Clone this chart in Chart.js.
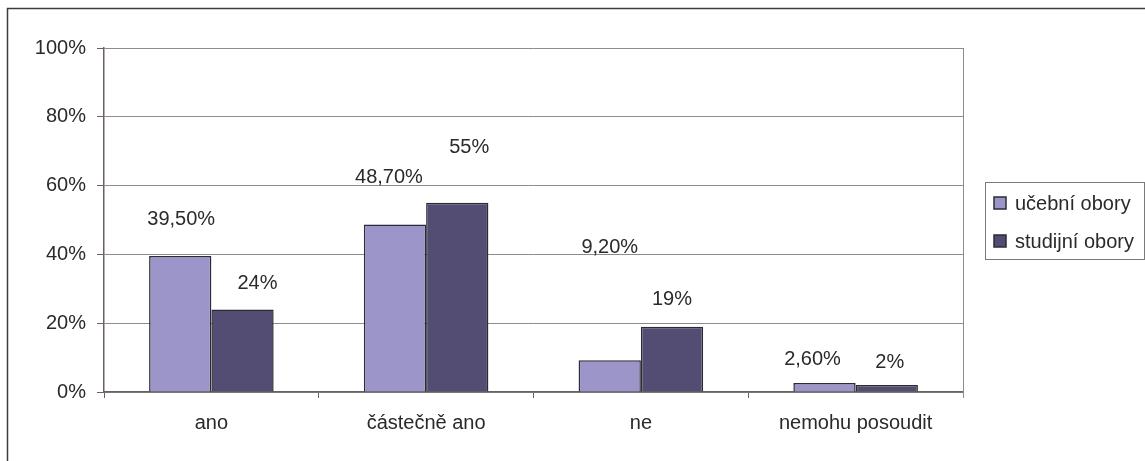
<!DOCTYPE html>
<html>
<head>
<meta charset="utf-8">
<script src="https://cdn.jsdelivr.net/npm/chart.js@4"></script>
<style>
    html, body { margin: 0; padding: 0; background: #ffffff; }
    #wrap { position: relative; width: 1145px; height: 461px; }
</style>
</head>
<body>
<div id="wrap"><canvas id="graf" width="1145" height="461"></canvas></div>
<script>
// Data
const kategorie = ['ano', 'částečně ano', 'ne', 'nemohu posoudit'];
const ucebniObory = [39.5, 48.7, 9.2, 2.6];
const studijniObory = [24, 55, 19, 2];
const yTicks = [0, 20, 40, 60, 80, 100];

// Kde leží popisky hodnot (v jednotkách osy y, jak jsou v předloze) a posun do strany v px
const ucebniPopiskyY = [50.1, 62.3, 41.9, 9.4];
const studijniPopiskyY = [31.5, 71.0, 26.8, 8.5];
const ucebniPosunX = [1, -6, 0, -12];
const studijniPosunX = [15, 12, 0, 3];

const barvaUcebni = '#9c95c9';
const barvaStudijni = '#534c73';
const barvaTextu = '#2a2a2a';
const pismo = "'Liberation Sans', Arial, sans-serif";
const velikost = 20;

function formatCz(v, des) {
    return v.toFixed(des).replace('.', ',') + '%';
}

// Rámeček grafu, okraj oblasti grafu, popisky hodnot a legenda
const kresleni = {
    id: 'kresleni',
    afterDraw(chart) {
        const ctx = chart.ctx;
        const a = chart.chartArea;
        const y = chart.scales.y;
        ctx.save();

        // vnější rámeček (pokračuje za okraj obrázku)
        ctx.strokeStyle = '#3c3c3c';
        ctx.lineWidth = 1.5;
        ctx.strokeRect(7.5, 8.5, 1400, 700);

        // pravý okraj oblasti grafu
        ctx.strokeStyle = '#8c8c8c';
        ctx.lineWidth = 1;
        ctx.beginPath();
        ctx.moveTo(Math.round(a.right) + 0.5, a.top);
        ctx.lineTo(Math.round(a.right) + 0.5, a.bottom + 6);
        ctx.stroke();

        // popisky hodnot
        ctx.font = velikost + 'px ' + pismo;
        ctx.fillStyle = barvaTextu;
        ctx.textAlign = 'center';
        ctx.textBaseline = 'middle';
        const popY = [ucebniPopiskyY, studijniPopiskyY];
        const posX = [ucebniPosunX, studijniPosunX];
        const des = [2, 0];
        chart.data.datasets.forEach((ds, di) => {
            const meta = chart.getDatasetMeta(di);
            meta.data.forEach((bar, i) => {
                ctx.fillText(formatCz(ds.data[i], des[di]), bar.x + posX[di][i], y.getPixelForValue(popY[di][i]));
            });
        });

        // legenda
        const lx = 985, ly = 182, lw = 159, lh = 77;
        ctx.strokeStyle = '#7a7a7a';
        ctx.lineWidth = 1;
        ctx.strokeRect(lx + 0.5, ly + 0.5, lw, lh);
        ctx.textAlign = 'left';
        chart.data.datasets.forEach((ds, di) => {
            const cy = ly + 21 + di * 38;
            ctx.fillStyle = ds.backgroundColor;
            ctx.fillRect(lx + 9, cy - 6, 12, 12);
            ctx.strokeStyle = '#2b2b35';
            ctx.lineWidth = 1.5;
            ctx.strokeRect(lx + 9, cy - 6, 12, 12);
            ctx.fillStyle = barvaTextu;
            ctx.fillText(ds.label, lx + 30, cy + 1);
        });
        ctx.restore();
    }
};

new Chart(document.getElementById('graf'), {
    type: 'bar',
    data: {
        labels: kategorie,
        datasets: [
            {
                label: 'učební obory',
                data: ucebniObory,
                backgroundColor: barvaUcebni,
                borderColor: '#2b2b35',
                borderWidth: 1.5,
                categoryPercentage: 0.58,
                barPercentage: 1
            },
            {
                label: 'studijní obory',
                data: studijniObory,
                backgroundColor: barvaStudijni,
                borderColor: '#2b2b35',
                borderWidth: 1.5,
                categoryPercentage: 0.58,
                barPercentage: 1
            }
        ]
    },
    options: {
        responsive: false,
        animation: false,
        devicePixelRatio: 1,
        layout: { padding: { left: 0, top: 48, right: 182, bottom: 0 } },
        plugins: {
            legend: { display: false },
            tooltip: { enabled: false }
        },
        scales: {
            x: {
                grid: {
                    offset: true,
                    drawOnChartArea: false,
                    tickLength: 6,
                    color: '#6b6163'
                },
                border: { color: '#6b6163', width: 1.5 },
                ticks: {
                    color: barvaTextu,
                    padding: 13,
                    font: { family: pismo, size: velikost }
                },
                afterFit(scale) { scale.height = 69; }
            },
            y: {
                min: 0,
                max: 100,
                afterBuildTicks(scale) {
                    scale.ticks = yTicks.map(v => ({ value: v }));
                },
                grid: {
                    color: '#8c8c8c',
                    tickLength: 7,
                    tickColor: '#6b6163'
                },
                border: { color: '#6b6163', width: 1.5 },
                ticks: {
                    color: barvaTextu,
                    padding: 11,
                    font: { family: pismo, size: velikost },
                    callback: v => v + '%'
                },
                afterFit(scale) { scale.width = 104; }
            }
        }
    },
    plugins: [kresleni]
});
</script>
</body>
</html>
